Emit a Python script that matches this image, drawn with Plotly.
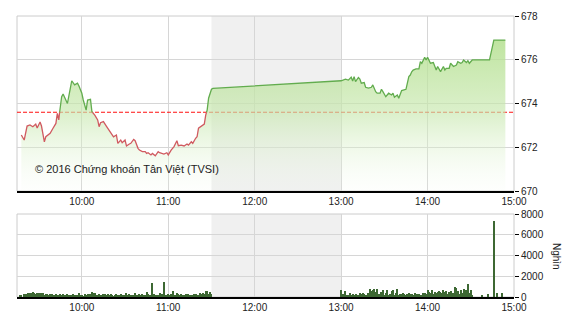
import plotly.graph_objects as go
import pandas as pd

DAY = "2016-01-01 "

# ---- Index (points) ----
price_times = [
    "09:18", "09:20", "09:22", "09:24", "09:26", "09:28", "09:29", "09:31", "09:32", "09:34",
    "09:35", "09:38", "09:40", "09:42", "09:43", "09:44", "09:45", "09:46", "09:47", "09:49",
    "09:50", "09:52", "09:53", "09:55", "09:57", "09:58", "10:00", "10:01", "10:03", "10:04",
    "10:06", "10:07", "10:09", "10:11", "10:12", "10:13", "10:15", "10:17", "10:18", "10:20",
    "10:22", "10:24", "10:25", "10:27", "10:28", "10:30", "10:31", "10:33", "10:34", "10:36",
    "10:37", "10:39", "10:40", "10:42", "10:44", "10:45", "10:46", "10:48", "10:49", "10:51",
    "10:53", "10:54", "10:56", "10:57", "10:59", "11:00", "11:02", "11:04", "11:06", "11:07",
    "11:09", "11:11", "11:13", "11:14", "11:16", "11:17", "11:19", "11:20", "11:21", "11:23",
    "11:25", "11:26", "11:27", "11:28", "11:30", "11:31",
    "13:00", "13:03", "13:05", "13:07", "13:08", "13:09", "13:10", "13:12", "13:13", "13:14",
    "13:16", "13:17", "13:19", "13:21", "13:22", "13:24", "13:25", "13:27", "13:28", "13:29",
    "13:31", "13:33", "13:35", "13:36", "13:37", "13:39", "13:40", "13:42", "13:44", "13:45",
    "13:47", "13:48", "13:49", "13:50", "13:52", "13:54", "13:55", "13:56", "13:58", "13:59",
    "14:00", "14:01", "14:02", "14:04", "14:05", "14:06", "14:07", "14:08", "14:09", "14:11",
    "14:12", "14:13", "14:15", "14:16", "14:18", "14:20", "14:21", "14:23", "14:24", "14:25",
    "14:27", "14:28", "14:29", "14:31", "14:43", "14:46", "14:54",
]
price_values = [
    672.56, 672.33, 672.97, 673.02, 672.94, 673.06, 672.88, 673.15, 672.97, 672.25,
    672.48, 672.64, 672.87, 673.09, 673.55, 673.25, 673.85, 674.31, 674.43, 674.16,
    674.00, 674.69, 675.04, 674.85, 674.93, 674.80, 674.47, 674.16, 673.70, 674.16,
    674.19, 673.63, 673.47, 673.25, 672.94, 673.12, 673.17, 672.97, 672.87, 672.64,
    672.48, 672.56, 672.18, 672.33, 672.21, 672.33, 672.06, 672.15, 672.18, 672.36,
    672.30, 671.95, 671.87, 671.80, 671.80, 671.72, 671.75, 671.65, 671.72, 671.61,
    671.80, 671.75, 671.72, 671.69, 671.75, 671.65, 671.87, 672.03, 672.30, 672.07,
    672.10, 672.06, 672.15, 672.10, 672.25, 672.18, 672.41, 672.48, 672.87, 672.97,
    673.06, 673.47, 673.70, 674.24, 674.65, 674.69,
    675.04, 675.11, 675.07, 675.20, 675.03, 675.23, 675.00, 675.19, 675.12, 674.93,
    674.96, 674.74, 674.70, 674.74, 674.85, 674.54, 674.47, 674.47, 674.65, 674.54,
    674.31, 674.47, 674.39, 674.47, 674.29, 674.39, 674.24, 674.59, 674.62, 674.65,
    675.23, 675.30, 675.45, 675.53, 675.58, 675.58, 675.91, 675.84, 676.11, 675.99,
    676.11, 675.96, 675.84, 675.87, 675.69, 675.53, 675.69, 675.53, 675.46, 675.69,
    675.53, 675.61, 675.61, 675.84, 675.69, 675.76, 675.91, 675.84, 675.87, 675.99,
    675.87, 675.96, 675.84, 675.99, 675.99, 676.90, 676.90,
]
ref_value = 673.6

# ---- Volume (thousand shares), one bar per minute ----
vol_morning_start = "09:17"
vol_morning = [
    120, 150, 0, 260, 300, 180, 350, 420, 380, 450,
    400, 300, 420, 380, 250, 400, 350, 200, 330, 280,
    150, 300, 250, 180, 120, 280, 200, 100, 300, 150,
    250, 180, 90, 320, 200, 150, 100, 250, 180, 220,
    120, 380, 150, 200, 90, 260, 180, 300, 120, 250,
    480, 350, 420, 200, 150, 280, 220, 100, 260, 300,
    150, 250, 100, 300, 200, 90, 180, 250, 150, 120,
    300, 100, 150, 200, 350, 120, 280, 150, 100, 200,
    350, 180, 120, 250, 100, 300, 200, 150, 500, 250,
    120, 200, 1380, 250, 150, 100, 200, 350, 150, 250,
    1480, 200, 150, 300, 120, 250, 600, 180, 100, 350,
    250, 150, 300, 200, 100, 250, 180, 300, 150, 200,
    100, 250, 300, 150, 200, 350, 250, 400, 300, 600,
    550, 300, 450, 250,
]
vol_afternoon_start = "13:00"
vol_afternoon = [
    700, 300, 150, 550, 200, 100, 350, 150, 250, 120,
    300, 200, 150, 350, 250, 420, 300, 200, 150, 400,
    750, 600, 650, 800, 500, 750, 300, 250, 450, 650,
    200, 400, 700, 150, 300, 550, 650, 200, 400, 750,
    150, 300, 250, 350, 280, 200, 300, 350, 250, 300,
    200, 350, 300, 250, 280, 200, 150, 350, 400, 300,
    650, 500, 350, 700, 300, 450, 400, 500, 550, 450,
    350, 700, 500, 600, 300, 450, 550, 400, 350, 950,
    850, 600, 300, 700, 400, 750, 300, 700, 1250, 350,
    700, 150, 0, 0, 0, 0, 0, 0, 200, 0,
    0, 0, 250, 0, 0, 0, 7330, 0, 400, 0,
    0, 0, 400,
]

x_tick_labels = ["10:00", "11:00", "12:00", "13:00", "14:00", "15:00"]
price_ticks = [670, 672, 674, 676, 678]
vol_ticks = [0, 2000, 4000, 6000, 8000]
watermark = "© 2016 Chứng khoán Tân Việt (TVSI)"
vol_unit = "Nghìn"

# ---------------------------------------------------------------
t = pd.to_datetime([DAY + s for s in price_times])
vals = list(price_values)

# insert threshold crossings so the line can change colour exactly at ref
pts = []
for i in range(len(vals)):
    pts.append((t[i].strftime("%Y-%m-%d %H:%M:%S"), vals[i]))
    if i + 1 < len(vals):
        a, b = vals[i], vals[i + 1]
        if (a - ref_value) * (b - ref_value) < 0:
            f = (ref_value - a) / (b - a)
            tc = (t[i] + (t[i + 1] - t[i]) * f).round("s")
            pts.append((tc.strftime("%Y-%m-%d %H:%M:%S"), ref_value))
px_ = [p[0] for p in pts]
red_y = [p[1] if p[1] <= ref_value + 1e-9 else None for p in pts]
grn_y = [p[1] if p[1] >= ref_value - 1e-9 else None for p in pts]
t_str = [DAY + s for s in price_times]

vm_t = pd.date_range(DAY + vol_morning_start, periods=len(vol_morning), freq="min")
va_t = pd.date_range(DAY + vol_afternoon_start, periods=len(vol_afternoon), freq="min")
vol_t = [d.strftime("%Y-%m-%d %H:%M") for d in list(vm_t) + list(va_t)]
vol_v = vol_morning + vol_afternoon

x_range = [DAY + "09:15", DAY + "15:00"]

FONT = "Liberation Sans"
GRID = "#d6d6d6"

fig = go.Figure()

# reference (previous close) dashed line, drawn under the fill
fig.add_trace(go.Scatter(x=x_range, y=[ref_value, ref_value], mode="lines",
                         line=dict(color="#ff1010", width=1.2, dash="4px,2px"),
                         hoverinfo="skip", showlegend=False, xaxis="x", yaxis="y"))

fig.add_trace(go.Scatter(
    x=t_str, y=vals, mode="lines", line=dict(width=0), fill="tozeroy",
    fillgradient=dict(type="vertical", start=670, stop=677,
                      colorscale=[[0, "rgba(240,250,235,0.1)"],
                                  [0.5, "rgba(200,232,175,0.65)"],
                                  [1, "rgba(178,223,140,0.85)"]]),
    hoverinfo="skip", showlegend=False, xaxis="x", yaxis="y"))
fig.add_trace(go.Scatter(x=px_, y=red_y, mode="lines",
                         line=dict(color="#d05a60", width=1.3),
                         connectgaps=False, showlegend=False, xaxis="x", yaxis="y"))
fig.add_trace(go.Scatter(x=px_, y=grn_y, mode="lines",
                         line=dict(color="#62ac4e", width=1.3),
                         connectgaps=False, showlegend=False, xaxis="x", yaxis="y"))

fig.add_trace(go.Bar(x=vol_t, y=vol_v, marker=dict(color="#3d6833", line=dict(width=0)),
                     width=45000, showlegend=False, xaxis="x2", yaxis="y2"))

tickvals = [DAY + s for s in x_tick_labels]
xdom = [17 / 570, 514 / 570]

common_x = dict(range=x_range, type="date", tickvals=tickvals, ticktext=x_tick_labels,
                showgrid=True, gridcolor=GRID, gridwidth=1, showline=True,
                linecolor="black", linewidth=1.5, ticks="", zeroline=False,
                automargin=False,
                tickfont=dict(family=FONT, size=10, color="#222"), domain=xdom)

fig.update_layout(
    width=570, height=320, margin=dict(l=0, r=0, t=0, b=0, autoexpand=False),
    paper_bgcolor="white", plot_bgcolor="white", bargap=0,
    xaxis=dict(anchor="y", **common_x),
    xaxis2=dict(anchor="y2", matches="x", **common_x),
    yaxis=dict(domain=[(320 - 191) / 320, (320 - 16) / 320], range=[670, 678],
               side="right", tickvals=price_ticks, ticks="outside", ticklen=4,
               tickcolor="black", showgrid=True, gridcolor=GRID, zeroline=False,
               showline=False, automargin=False,
               tickfont=dict(family=FONT, size=10, color="#222"), anchor="x"),
    yaxis2=dict(domain=[(320 - 297) / 320, (320 - 214) / 320], range=[0, 8000],
                side="right", tickvals=vol_ticks, ticks="outside", ticklen=4,
                tickcolor="black", showgrid=True, gridcolor=GRID, zeroline=False,
                showline=False, automargin=False,
                tickfont=dict(family=FONT, size=10, color="#222"), anchor="x2"),
)

shapes = []
for xr, yr in (("x", "y"), ("x2", "y2")):
    shapes.append(dict(type="rect", xref=xr, yref=yr + " domain",
                       x0=DAY + "11:30", x1=DAY + "13:00", y0=0, y1=1,
                       fillcolor="#f0f0f0", line=dict(width=0), layer="below"))
    shapes.append(dict(type="rect", xref=xr + " domain", yref=yr + " domain",
                       x0=0, x1=1, y0=0, y1=1, line=dict(color="#cccccc", width=1),
                       layer="below"))
fig.update_layout(shapes=shapes)

fig.add_annotation(text=watermark, xref="paper", yref="paper", x=33 / 570,
                   y=(320 - 169) / 320, xanchor="left", yanchor="middle",
                   showarrow=False, font=dict(family=FONT, size=11, color="#222"))
fig.add_annotation(text=vol_unit, xref="paper", yref="paper", x=557 / 570,
                   y=(320 - 256) / 320, xanchor="center", yanchor="middle",
                   textangle=90, showarrow=False,
                   font=dict(family=FONT, size=10, color="#222"))

fig.write_html("out.html")
